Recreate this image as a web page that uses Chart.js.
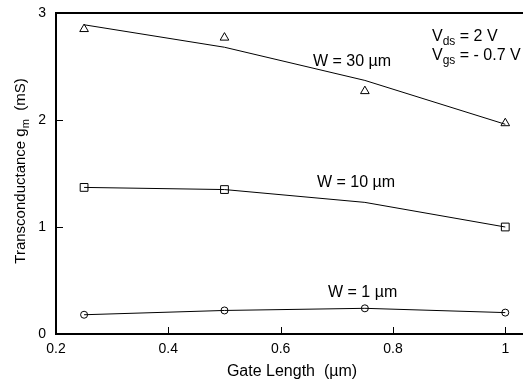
<!DOCTYPE html>
<html>
<head>
<meta charset="utf-8">
<script src="https://cdn.jsdelivr.net/npm/chart.js@4"></script>
<style>
  html, body { margin: 0; padding: 0; background: #fff; }
  #wrap { width: 523px; height: 384px; position: relative; }
</style>
</head>
<body>
<div id="wrap"><canvas id="gmChart"></canvas></div>
<script>
const gateLen = [0.25, 0.5, 0.75, 1.0];
const w30Pts = [2.85, 2.77, 2.27, 1.97];
const w30Fit = [2.89, 2.68, 2.37, 1.96];
const w10Len = [0.25, 0.5, 1.0];
const w10Pts = [1.37, 1.35, 1.0];
const w10Fit = [1.37, 1.35, 1.23, 1.0];
const w1Pts = [0.18, 0.22, 0.24, 0.20];
const w1Fit = [0.18, 0.22, 0.24, 0.20];
const xTicks = [0.2, 0.4, 0.6, 0.8, 1];
const yTicks = [0, 1, 2, 3];

const FONT = "Liberation Sans, Arial, Helvetica, sans-serif";

function pts(xs, ys) {
  return xs.map((x, i) => ({ x: x, y: ys[i] }));
}

function fitLine(data) {
  return { data: data, showLine: true, borderColor: "#000", borderWidth: 1,
           pointRadius: 0, tension: 0, fill: false };
}
function markers(data, style, r) {
  return { data: data, showLine: false, pointStyle: style, pointRadius: r,
           pointBorderColor: "#000", pointBackgroundColor: "rgba(0,0,0,0)",
           pointBorderWidth: 1 };
}

// text with a subscript part: [[text, sub?], ...]
function drawRich(ctx, parts, x, y, size) {
  let cx = x;
  parts.forEach(p => {
    const sub = p[1];
    ctx.font = (sub ? size - 4 : size) + "px " + FONT;
    ctx.fillText(p[0], cx, sub ? y + 4 : y);
    cx += ctx.measureText(p[0]).width;
  });
}
function richWidth(ctx, parts, size) {
  let w = 0;
  parts.forEach(p => {
    ctx.font = (p[1] ? size - 4 : size) + "px " + FONT;
    w += ctx.measureText(p[0]).width;
  });
  return w;
}

const decor = {
  id: "decor",
  afterDraw(chart) {
    const ctx = chart.ctx;
    const a = chart.chartArea;
    const xs = chart.scales.x, ys = chart.scales.y;
    const L = Math.round(a.left), T = Math.round(a.top), B = Math.round(a.bottom);
    ctx.save();
    ctx.fillStyle = "#000";
    // frame: top, left, bottom
    ctx.fillRect(L - 1, T - 1, chart.width - L + 1, 2);
    ctx.fillRect(L - 1, T - 1, 2, B - T + 2);
    ctx.fillRect(L - 1, B - 1, chart.width - L + 1, 2);
    // inward ticks
    xTicks.forEach(v => {
      const px = Math.round(xs.getPixelForValue(v));
      ctx.fillRect(px, B - 7, 1, 7);
    });
    yTicks.forEach(v => {
      const py = Math.round(ys.getPixelForValue(v));
      ctx.fillRect(L, py, 7, 1);
    });

    ctx.textBaseline = "alphabetic";
    ctx.textAlign = "left";
    drawRich(ctx, [["W = 30 \u00b5m"]], 313, 66, 16);
    drawRich(ctx, [["W = 10 \u00b5m"]], 317, 187, 16);
    drawRich(ctx, [["W = 1 \u00b5m"]], 328, 297, 16);
    drawRich(ctx, [["V"], ["ds", 1], [" = 2 V"]], 432, 41, 16);
    drawRich(ctx, [["V"], ["gs", 1], [" = - 0.7 V"]], 432, 60, 16);

    // x title
    ctx.font = "16px " + FONT;
    ctx.textAlign = "center";
    ctx.fillText("Gate Length  (\u00b5m)", 292, 376);

    // y title, rotated, with subscript
    ctx.translate(25, 171);
    ctx.rotate(-Math.PI / 2);
    const parts = [["Transconductance g"], ["m", 1], ["  (mS)"]];
    const w = richWidth(ctx, parts, 15);
    ctx.textAlign = "left";
    drawRich(ctx, parts, -w / 2, 0, 15);
    ctx.restore();
  }
};

new Chart(document.getElementById("gmChart"), {
  type: "scatter",
  data: {
    datasets: [
      fitLine(pts(gateLen, w30Fit)),
      fitLine(pts(gateLen, w10Fit)),
      fitLine(pts(gateLen, w1Fit)),
      markers(pts(gateLen, w30Pts), "triangle", 5),
      markers(pts(w10Len, w10Pts), "rect", 5.5),
      markers(pts(gateLen, w1Pts), "circle", 3.5)
    ]
  },
  options: {
    responsive: true,
    maintainAspectRatio: false,
    animation: false,
    layout: { padding: { left: 0, top: 13, right: 0, bottom: 0 } },
    plugins: { legend: { display: false }, tooltip: { enabled: false } },
    scales: {
      x: {
        type: "linear",
        min: 0.2,
        max: 1.02,
        afterBuildTicks: s => { s.ticks = xTicks.map(v => ({ value: v })); },
        afterFit: s => { s.height = 50; s.paddingLeft = 0; s.paddingRight = 0; },
        grid: { display: false, drawTicks: false },
        border: { display: false },
        ticks: { color: "#000", font: { family: FONT, size: 14 }, padding: 7,
                 maxRotation: 0, callback: v => String(v) }
      },
      y: {
        type: "linear",
        min: 0,
        max: 3,
        afterBuildTicks: s => { s.ticks = yTicks.map(v => ({ value: v })); },
        afterFit: s => { s.width = 56; s.paddingTop = 0; s.paddingBottom = 0; },
        grid: { display: false, drawTicks: false },
        border: { display: false },
        ticks: { color: "#000", font: { family: FONT, size: 14 }, padding: 10,
                 callback: v => String(v) }
      }
    }
  },
  plugins: [decor]
});
</script>
</body>
</html>
